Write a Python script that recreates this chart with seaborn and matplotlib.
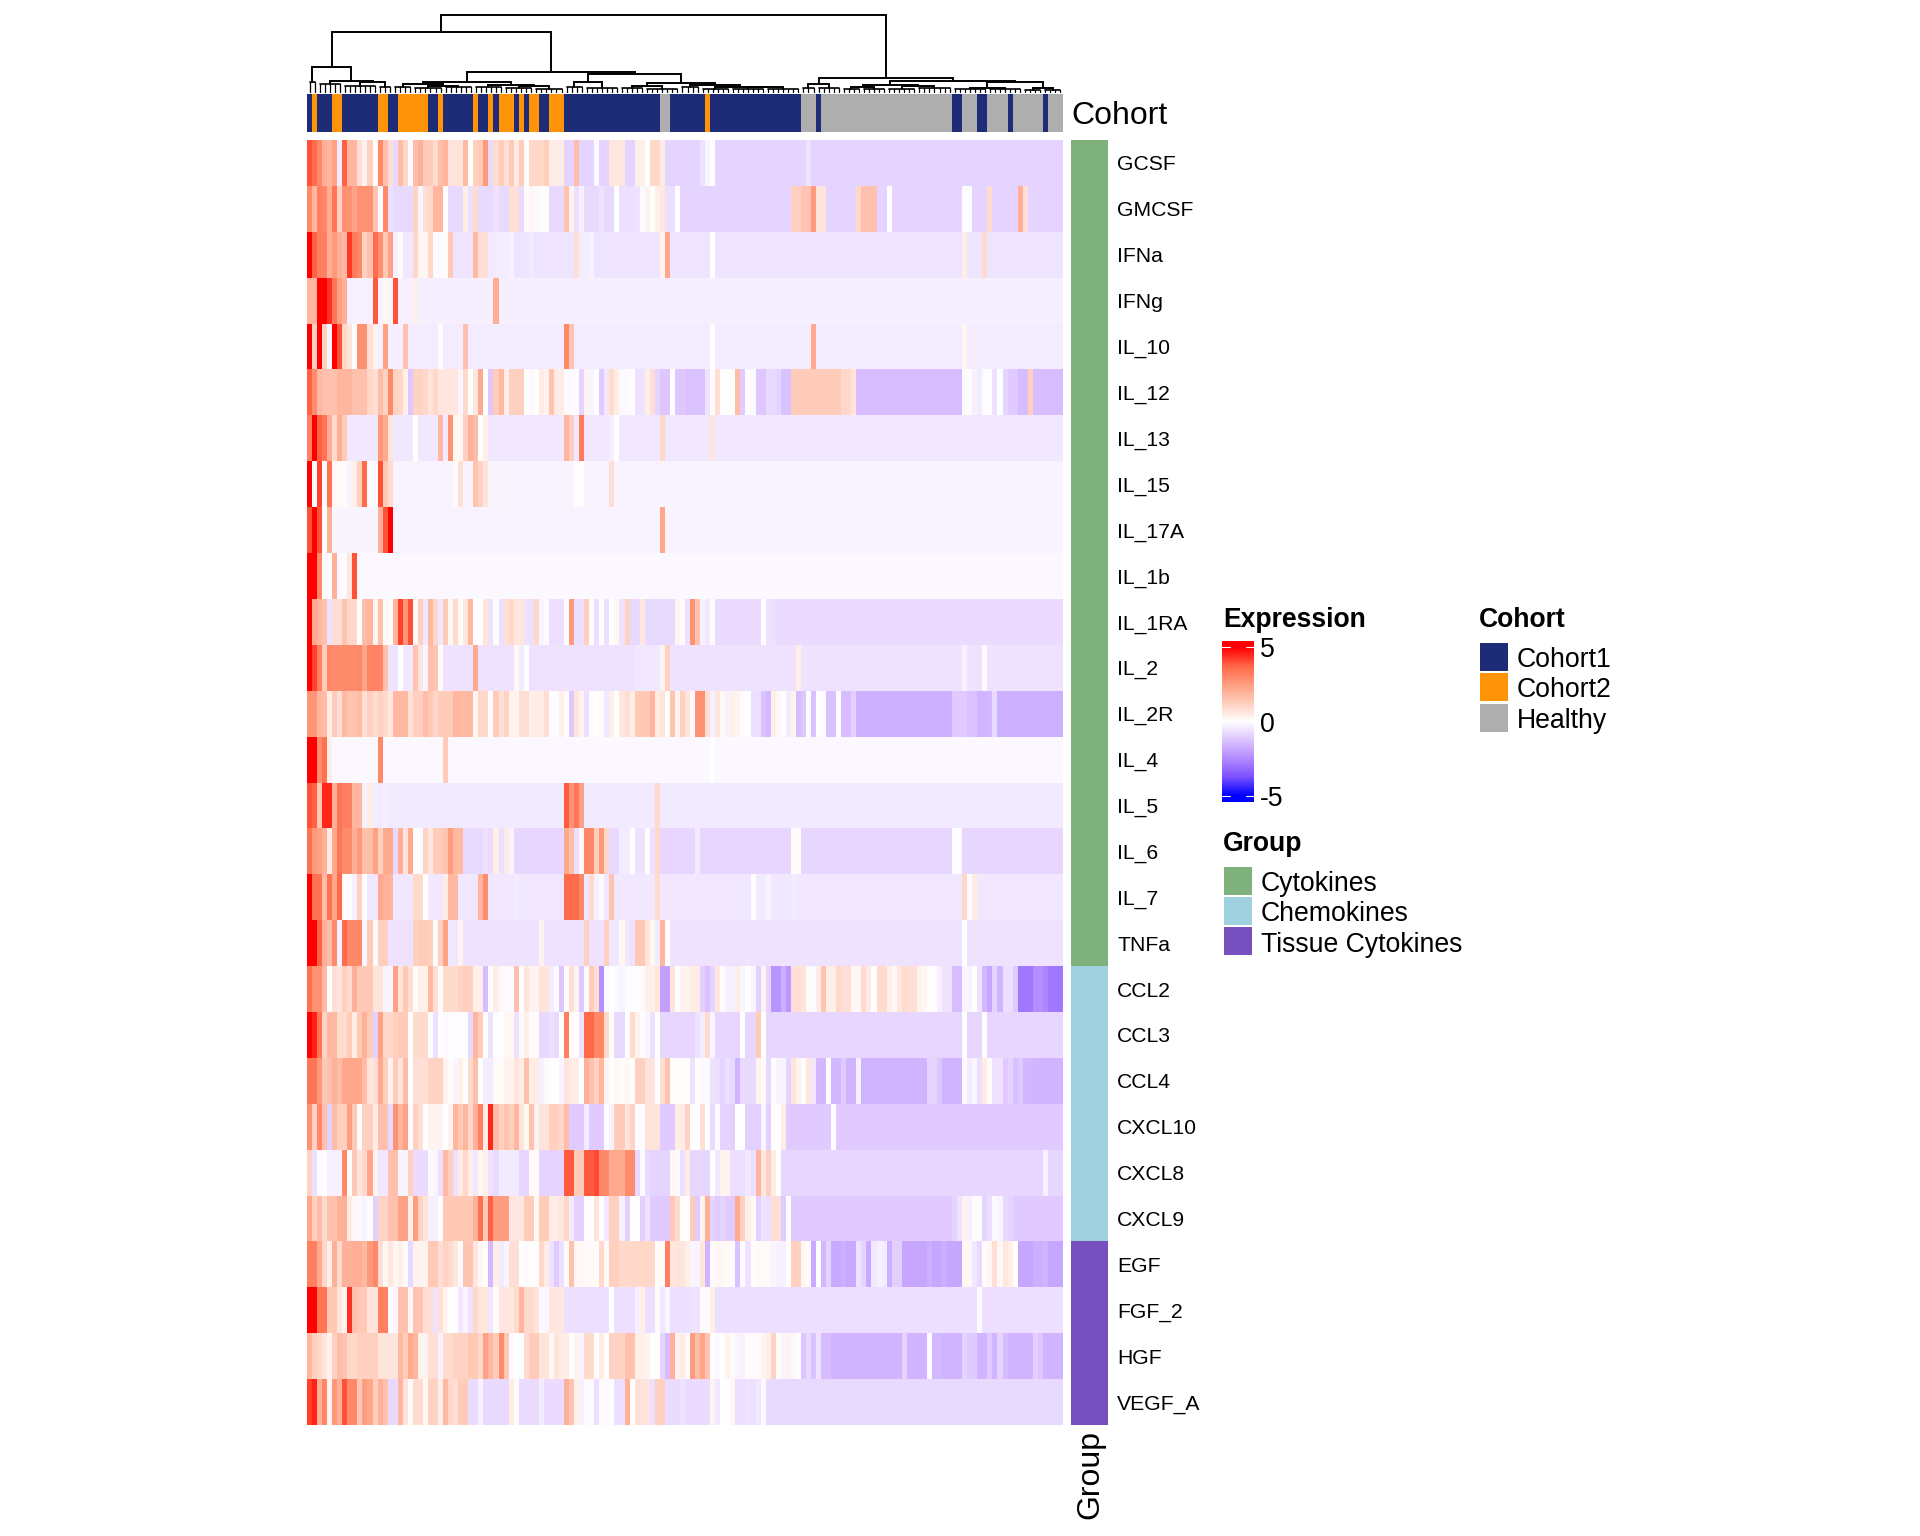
import numpy as np
import pandas as pd
import matplotlib.pyplot as plt
import seaborn as sns
from matplotlib.colors import LinearSegmentedColormap, ListedColormap
from matplotlib.patches import Rectangle

row_labels = ['GCSF', 'GMCSF', 'IFNa', 'IFNg', 'IL_10', 'IL_12', 'IL_13', 'IL_15', 'IL_17A', 'IL_1b',
              'IL_1RA', 'IL_2', 'IL_2R', 'IL_4', 'IL_5', 'IL_6', 'IL_7', 'TNFa',
              'CCL2', 'CCL3', 'CCL4', 'CXCL10', 'CXCL8', 'CXCL9',
              'EGF', 'FGF_2', 'HGF', 'VEGF_A']

GCSF = ([4.0, 3.6, 3.0, 2.0, 1.9, 2.4, -.4, 3.8, 1.9, 1.9,
         .8, .3, 1.2, 0, 3.0, 1.6, .8, -.8, 1.7, 1.0,
         -.1, 1.7, 2.0, 1.3, 1.3, .9, 1.7, 1.9, .7, .7,
         .7, 1.8, 0, 1.2, 1.4, 2.6, -.8, .9, 1.3, .8,
         1.4, .5, 1.3, 0, 1.0, 1.0, 1.0, 1.2, .5, .5, .5]
        + [-.9]*2 + [1.7] + [-.9]*3 + [-.1] + [-.9]*2 + [.6]*3 + [-.9]*2 + [.4, .4, 0, 1, 1, .5]
        + [-.9]*7 + [-.6, -.2, 0] + [-.9]*18 + [-.6] + [-.9]*50)
GMCSF = ([3.0, 1.9, 3.2, 3.0, 2.1, 3.4, 1.2, 2.8, 2.8, 2.4, 2.8, 2.8, 2.8, 1.5, 0, 3.0, -.7]
         + [-.8]*4 + [1.1, -.2, .8, 1.0, 1.9, 1.9, 0] + [-.8]*3 + [.4, -.7, .9] + [-.8]*3
         + [-.6, -.8, -.8, .8, .8, -.8, .1, .25, -.1, .05, .05] + [-.8]*3 + [1.6, .3, -.7, -.3]
         + [-.8]*3 + [-.6, -.8, -.8, 0] + [-.7]*3 + [-.6, -.1, .3, 0, .4, .6, -.7, -.7, 0]
         + [-.9]*22 + [1.2, 1.2, 1.5, 1.5, 2.6, .7, .7] + [-.9]*6 + [1.0, 1.6, 1.6, 1.6, -.9, -.9, 0]
         + [-.9]*14 + [-.05, -.05] + [-.9]*3 + [.9] + [-.9]*5 + [2.0, .8] + [-.9]*7)
IFNa = ([5, 3.8, 3.2, 3.2, 2.1, 2.6, 2.0, 1.8, 4.3, 3.3,
         3.0, 1.1, 1.6, 3.6, 2.8, 1.4, 2.4, -.3, .15, -.5,
         -.5, 1.0, .25, .25, 1.0, -.1, -.1, .1, 1.4]
        + [-.55]*4 + [1.8, .8, .8, -.45, -.4, -.4, -.4, -.3] + [-.55]*3 + [-.45] + [-.55]*8
        + [.8, -.4, -.4, -.3] + [-.55]*13 + [.3, 2.3] + [-.55]*8 + [0] + [-.55]*49 + [.45]
        + [-.55]*3 + [.9] + [-.55]*15)
IFNg = ([1.9, 1.9, 5, 5, 4.4, 3.4, 2.4, 2.0] + [-.3]*5 + [3.9, -.25, .2, -.2, 4.0] + [-.3]*3 + [.4]
        + [-.35]*15 + [2.1] + [-.35]*112)
IL_10 = ([5, 1.2, 5, 1.2, -.2, 5, 4, 1.0, .7, 0, 2.8, 2.8, .8, .3, -.35, 2.4] + [-.35]*3 + [1.6]
         + [-.4]*6 + [.1] + [-.4]*4 + [1.6] + [-.4]*19 + [3.0, 1.5] + [-.4]*27 + [0] + [-.4]*19
         + [2.2] + [-.4]*29 + [.25] + [-.4]*19)
IL_12 = ([3.8, 2.9, 1.8, 1.6, 1.6, 1.6, 1.9, 1.9, 1.9, 1.6,
          1.6, 1.6, 1.0, .8, 1.7, 1.1, 3.0, 1.1, 1.0, .4,
          -1.2, 1.1, 1.1, 1.0, .7, 1.0, .6, .6, .6, .6,
          -.2, 1.0, 0, .6, 2.2, 0, -1.2, 1.3, 1.8, .4,
          1.2, 1.2, 1.2, 0, -.1, 0, .5, .3, 1.5, .5,
          .5, -.1, -.1, .05, -.9, .3, -.2, 0, -1.1, -.5,
          .9, .5, -.1, -.1, -.05, -.6, -.6, .4, .8, -.9,
          -1.2, -1.2, 0, -1.2, -1.2, -1.3, -1.3, -1.3, -1.3, -.6,
          -.05, .8, .05, .05, 0, 1.7, -1.1, .1, -.1, -1.2,
          -1.2, -.8, -.8, -.9, -1.3, -1.3]
         + [1.3]*10 + [1.0, 1.0, .7] + [-1.4]*21
         + [-.1, -.05, -.3, -.4, -.05, -.05, -.6, 0, -.9, -1.1, -1.1, -1.4, -1.4, 1.2] + [-1.4]*6)
IL_13 = ([3.2, 5, 3.8, 3.4, 2.1, .9, 2.1, 1.3] + [-.5]*6 + [2.6, 2.2, .7] + [-.5]*4 + [0] + [-.5]*4
         + [1.8, -.4, 2.8, .2, .2, 1.2, 2, 1.7, 0, .4] + [-.5]*15 + [1.9, 1.2, -.5, 3.3] + [-.5]*5
         + [-.35, 0] + [-.5]*8 + [1.0] + [-.5]*9 + [.7] + [-.5]*69)
IL_15 = ([5, -.1, 4.2, 0, 3.5, .2, .1, .1, -.2, .4, 1.2, 3.6, -.1, -.1, 4.0, 1.4, .9] + [-.25]*12
         + [.1, .8, -.25, -.25, 1.5, 1.1, .7, -.2, -.2] + [-.25]*15 + [.05, .05] + [-.25]*5 + [.8]
         + [-.25]*89)
IL_17A = [4, 5, 4, -.1, 2.0] + [-.2]*9 + [2.0, 4.0, 5] + [-.25]*53 + [2.3] + [-.25]*79
IL_1b = [5, 5, 3.0, -.1, -.1, 2.0, -.1, -.1, .6, 4] + [-.15]*140
IL_1RA = ([5, 2.2, 1.9, 1.6, -.6, .8, .8, 1.5, 1.0, 1.0,
           0, 1.7, 1.9, .3, 1.6, .1, .1, 1.9, 4.2, 2.7,
           4.0, .1, 1.2, -.5, 1.8, 1.0, -.5, 1.3, .2, .9,
           .1, .6, 1.9, 0, 0, .7, -.6, .05, -.7, .8,
           1.0, .6, .6, -.6, -.7, 1.0, -.2, -.1, -.7, -.7,
           -.7, 0, 2.6, -.7, -.7, 1.2, .1, -.7, 0, -.7,
           0, .2, -.6, 1.1, -.8, -.8, .6]
          + [-.8]*6 + [.3, .1, -.7, 2.8, 1.5, -.3, -.5, .05] + [-.75]*9 + [0, -.6, -.65] + [-.75]*57)
IL_2 = ([5, 4.2, 3.2, 1.3, 3.0] + [2.9]*5 + [3.0, 2.3, 3.1, 3.1, 3.1, 1.6, -.55, -.55, 0, -.5, -.5]
        + [1.5, .7, -.2, 1.6, 1.5, .1] + [-.6]*6 + [2.2] + [-.6]*7 + [.2, -.4, 0] + [-.6]*21
        + [-.5]*5 + [.3, 1.2] + [-.6]*25 + [.4] + [-.6]*32 + [-.3] + [-.6]*3 + [-.1] + [-.6]*15)
IL_2R = ([2.7, 2.7, 1.9, 1.7, .5, 1.3, .8, 1.8, 1.5, 1.5,
          1.7, .8, 1.2, .9, 1.1, .9, .6, 1.8, 1.8, 1.8,
          .8, 1.2, 1.2, 1.7, 1.4, 1.0, 1.3, 1.3, 1.3, 1.9,
          1.8, 1.8, 1.8, .2, 1.0, 1.0, 0, 1.3, .8, 1.1,
          .3, .3, .8, .8, .4, .5, .5, .8, -.05, -.05,
          .4, .1, -1.2, .7, .3, -.7, .1, 0, .1, -.5,
          .4, 0, .6, .8, .5, 1.4, 1.4, 1.4, 1.9, .5,
          .7, 0, 1.5, .3, 1.2, .7, .1, 2.8, 2.8, .8,
          -.3, .7, .2, -.3, .4, .3, .1, 0, -.7, -.7,
          -1.3, -1.5, .4, .2, 0, -.4, .3, -1.4, -1.2, 0,
          -1.3, 0, -.1, -1.3, -1.3, 0, -1.4, -1.4, -1.0]
         + [-1.7]*19 + [-1.1]*3 + [-1.3]*2 + [-1.6]*2 + [-1.5, -.8] + [-1.7]*13)
IL_4 = [5, 5, 2.9, 3.5, .4] + [-.15]*9 + [3.0] + [-.15]*12 + [1.3] + [-.15]*52 + [0] + [-.15]*69
IL_5 = ([4, 3.8, 1.4, 4.5, 4.5, 2.0, 3.4, 3.2, 3.2, 1.9, 1.9, -.3, .5, -.4, -.45, -.35] + [-.45]*35
        + [3.9, 2.7, 3.4, 2.4] + [-.45]*14 + [.9] + [-.45]*80)
IL_6 = ([3.5, 2.6, 2.4, 2.0, .5, 2.3, 3.4, 2.9, 2.9, 2.1,
         2.6, 1.6, 1.7, 2.4, 1.2, 2.2, 2.2, -.8, 2.0, .7,
         2.2, .05, -.1, 1.1, .6, 1.3, 1.3, 1.5, 2.5, 1.8,
         1.8, -.8, -.8, -.8, -.8, -.7, -.75, .4, -.7, .5, -.2]
        + [-.85]*10 + [2.2, 1.7, -.7, .2, 3.0, 3.0, 1.2, 2.6, 1.0,
                       -.8, -.8, -.4, -.4, 0, -.6, -.6, -.05, -.7, 1.0]
        + [-.85]*7 + [-.4] + [-.85]*18 + [.1, .1] + [-.85]*30 + [-.05, -.05] + [-.85]*20)
IL_7 = ([5, 3.5, 3.5, 1.7, 3.5, 2.3, 3.6, .05, -.05, -.3, 1.2, 0, -.5, -.5, 2.2, 2.0, 1.9]
        + [-.5]*4 + [.9, .9, 0] + [-.5]*3 + [.5, 1.8, 1.8] + [-.5]*4 + [1.9, 2.9] + [-.5]*5 + [-.4]
        + [-.5]*9 + [3.6, 3.6, 3.6, 3.0, -.5, .9, -.3, -.1, -.5, 1.5] + [-.5]*8 + [.9] + [-.5]*18
        + [0, -.45, -.45, -.25] + [-.5]*4 + [-.4] + [-.5]*33 + [1.0, -.1, .5] + [-.5]*17)
TNFa = ([5, 5, 3.8, 2.0, 1.7, 2.9, -.3, 3.6, 3.0, 3.0, 3.0, -.2, 1.4, -.1, 1.2, 1.2] + [-.6]*5
        + [1.2, 1.3, 1.3, 1.2, 0, 1.2, 2.4, -.5, -.5, .3] + [-.6]*15 + [.3] + [-.6]*8 + [1.2]
        + [-.6]*3 + [1.2, -.5, -.5, .2, -.5, -.6, 1.4, 1.4, .7, .2, -.4, 1.9, 0] + [-.6]*58 + [0]
        + [-.6]*19)
CCL2 = [3.5, 2.8, 2.8, 1.8, 0, .8, .7, 1.2, .9, 2.0,
        1.4, 1.4, 1.4, .7, .7, -.2, -.2, 2.4, .7, 1.4,
        .8, .1, .4, .4, 1.8, .8, .1, .9, .9, .9,
        1.1, 1.2, 1.2, .4, .4, -1.4, -.05, .5, .15, -.1,
        -.1, 1.6, 0, .7, .3, .3, .7, .7, -.4, -.1,
        -1.2, .1, .8, .3, -1.2, -.1, 1.3, .8, -2.4, -.1,
        0, -.1, -.2, -.05, -.05, -.05, -.1, .4, .4, .7,
        -2.0, -2.0, .7, 0, .3, .3, .5, .5, -1.0, -1.3,
        -.9, .6, .1, -.3, -.3, .5, -.2, 0, -.2, -1.0,
        .3, -.9, -2.3, -2.3, -1.7, -2.2, .8, .8, .7, .1,
        -.1, .5, 1.5, .4, .4, 1.0, .8, .8, .2, .2,
        .9, .5, 0, .9, .9, .4, .2, .6, .9, .8,
        .8, .3, .2, 0, -.05, -.3, -.6, -.6, -1.4, -1.4,
        -.2, -.2, 0, -.6, -1.5, -1.9, -.9, -1.6, -.7, -.7,
        -1.1, -2.9, -2.9, -2.9, -2.4, -2.4, -2.6, -2.9, -2.9, -2.9]
CCL3 = ([5, 4.6, 3.4, 1.1, 1.8, 1.8, .9, .9, 1.3, .5,
         1.4, 2.0, 1.3, -1.0, 2.4, 1.0, 1.0, 1.2, 1.3, 1.3,
         0, .9, .9, .9, 0, -.7, 0, -.1, -.05, -.05,
         -.05, -.05, -.8, 1.9, 1.3, 0, -.6, -.05, -.05, .2,
         .2, -.6, -.1, .4, .1, .1, -.8, -.8, -.7, -.8,
         0, 3.2, .05, .05, -.6, 3.7, 3.7, 3.0, 3.0, .9,
         .1, -.8, -.8, 0, .9, .3, .1, -.2, -.7, 0]
        + [-.85]*7 + [-.6, -.4, .9, -.2] + [-.85]*5 + [0, -.85, -.85, 1.3, 0] + [-.85]*39 + [0]
        + [-.85]*3 + [0] + [-.85]*15)
CCL4 = ([3.4, 3.4, 2.6, 1.4, 1.6, 2.0, 1.7, 2.3, 2.3, 2.3,
         2.3, 1.7, .6, .8, 2.2, 1.2, .3, 1.3, .7, 1.7,
         0, .8, .8, .8, 1.1, 1.1, 1.1, .3, .1, -.2,
         .4, 0, 1.0, 1.6, 0, -.4, -.4, .15, .15, .3,
         .3, .7, .5, 1.6, .5, .5, -.3, -.1, 0, 0,
         -.2, .7, .5, .5, 0, 2.0, 1.6, 1.1, 1.9, .3,
         -.05, .2, .1, .2, 0, 1.2, 1.2, .7, .7, 0,
         .8, 1.5, .05, .05, .05, .05, -.6, 0, -.1, -.1,
         -.6, -.7, -.9, -.7, -.8, -1.6, -.8, -.8, -.8, .3,
         .1, -.8, -.05, -.2, -.2, -.9, .7, .3, 0, .6,
         -.5, -1.5, -1.5, 0, -1.5, -1.5, -1.1, -1.6, -1.6, -.3]
        + [-1.6]*13 + [-.9, -.9, -1.2] + [-1.6]*4
        + [.15, -.4, -.2, -.7, .5, .1, -.6, -.6, -1.1, -.9, -1.3, -1.1, -1.5, -1.5] + [-1.6]*6)
CXCL10 = ([2.8, 1.2, 3.0, 1.6, -1.0, 1.7, 1.2, 1.2, 2.5, 1.4,
           0, 1.2, 1.2, .5, 1.6, 1.6, -.8, 2.8, 1.9, 2.4,
           0, 1.2, .8, 0, .3, .3, .3, 0, .3, 1.9,
           1.4, 1.9, 1.0, 2.0, 3.2, .5, 4.5, 1.7, 1.2, 1.5,
           1.2, 1.9, .7, .2, 1.6, .3, .7, .7, 1.2, 1.2,
           1.0, 1.7, -1.1, -1.1, -1.1, -.4, -1.1, -1.1, -1.1, 0,
           -.3, 1.3, 1.3, .7, 1.1, -.05, -.05, .7, .7, .7,
           -1.1, -1.1, -1.1, .5, .5, 1.1, 0, 0, .8, 0,
           -.8, -.1, -.9, -.9, -1.0, 0, 0, -1.0, -1.0, -1.0,
           -.2, -1.0, 0, 0, .5]
          + [-1.1]*9 + [0] + [-1.1]*45)
CXCL8 = ([1.1, -.7, -.1, 0, -.3, -.3, -.3, 3.0, .1, 1.4,
          .7, 1.0, 2.3, .3, -.5, -.5, 1.6, 1.6, -.2, -.2,
          1.2, -.75, -.75, -.75, -.1, -.2, -.7, 1.8, 1.2, -.7,
          .5, 1.0, .4, -.5, .2, .4, -.6, -.8, -.45, -.45,
          -.45, -.45, -.85, -.85, .15, .15, -.9, -.9, -.9, -.9,
          -.9, 3.9, 3.9, 1.3, 1.3, 3.9, 3.9, 4.1, 3.0, 3.0,
          2.2, 2.2, 2.2, 2.9, 2.9, -.8, -.1, -.8, -.9, -.9,
          -.9, -.9, .2, -.1, -.7, .5, -.85, -.85, -.85, -.85,
          0, -.5, .3, .3, -.7, -.7, -.7, -.5, -.7, 1.9,
          .6, 1.2, .5, 0]
         + [-.85]*52 + [-.3] + [-.85]*3)
CXCL9 = ([2.3, 1.2, 1.7, .9, 1.6, 1.6, 2.0, 2.0, .5, .2,
          -.15, -.2, 0, -1.0, 1.1, 1.1, 1.6, 1.6, 2.4, 2.4,
          .4, 2.5, 1.1, .7, -.3, -.3, 0, 1.4, 1.4, 1.4,
          1.4, 1.4, 1.4, 2.0, 3.5, 1.3, 3.8, 2.5, 2.5, 2.5,
          .6, .6, .6, 1.3, 1.3, .2, 1.3, 1.3, .5, .5,
          .6, 1.0, -.4, -1.0, -1.0, 0, 0, .7, 0, -.5,
          1.2, 1.2, -.3, -1.0, 0, 0, -1.0, -.6, -1.1, -1.1,
          -1.1, -1.1, 1.4, .9, .05, .05, 1.3, -1.1, .3, 2.0,
          -.9, -1.1, -.9, -1.1, -1.1, 2.2, 1.2, .4, .2, -1.0,
          -.6, -.7, .8, .8, -1.1, 0]
         + [-1.1]*32 + [-.9, -.6, .3, -.3, -.05, 0, -.9, -.7, -.1, -.2, -.8, -.9] + [-1.1]*10)
EGF = ([3.2, 3.2, 2.2, 1.0, .4, 2.0, .9, 2.0, 2.0, 2.1,
        2.1, 1.8, 2.6, 3.0, .8, .2, .6, .2, .4, -.1,
        -.8, .3, .3, .3, 1.4, 1.4, .8, 1.1, .9, .6,
        .1, 1.5, 1.5, .6, .2, 0, -1.5, .4, -.4, -.2,
        .8, .8, 0, -.1, .05, .05, 1.0, .5, -.6, -1.1,
        -.7, .1, 1.6, .2, .2, .15, .15, .15, 1.0, .1,
        1.2, 1.2, 1.0, 1.0, 1.0, 1.0, 1.0, 1.0, 1.0, .1,
        .1, 3.2, .6, .7, .7, .4, -.2, -.2, .7, -1.6,
        -.1, .2, .2, .15, -.05, -1.3, -.1, -.6, -.05, .15,
        .15, .15, -.2, -.3, -.3, 0, 1.2, 1.2, .2, -.1,
        -1.8, 0, -1.5, -.9, -1.8, -1.8, -1.7, -1.8, -1.8, -.6,
        -.9, -1.8, -.5, -.3, -.4, -1.7, -1.0, -1.0]
       + [-1.9]*5 + [-1.7, -1.9, -1.9, -1.7] + [-1.9]*3
       + [.2, .2, -.5, -.8, .05, .25, .8, .2, .6, .4, 0] + [-1.9]*3 + [-1.7, -1.7, -1.6] + [-1.9]*3)
FGF_2 = ([5, 5, 3.4, 3.4, 1.4, 1.4, .7, .3, 4.4, 1.6,
          1.4, 1.4, .7, .7, 3.2, 3.2, 0, -.2, 1.6, 1.6,
          .2, 1.5, 1.5, .8, .8, -.6, .8, .3, 0, 0,
          -.5, -.2, -.6, 1.0, .6, .6, -.5, .1, .6, .6,
          .6, .9, 1.9, .9, .9, .7, -.15, -.15, .6, .6, .6]
         + [-.7]*9 + [0] + [-.7]*4 + [-.3, .4, -.7, -.7, .15, -.5, -.2] + [-.7]*4
         + [-.6, -.6, .1, .1, .4] + [-.7]*52 + [-.1] + [-.7]*16)
HGF = ([1.9, 1.2, 1.0, .7, .3, 1.2, 1.7, 1.5, 1.0, 1.0,
        1.2, 1.2, 1.2, 1.2, .7, .7, .7, .7, 1.8, 1.3,
        2.2, 1.9, .3, .3, .8, .8, -.3, .9, .9, 1.1,
        1.1, 1.1, 1.4, 1.4, 1.0, 2.4, 1.8, 1.3, 2.9, 1.4,
        -.1, 0, -.05, .9, 1.3, 1.3, .7, .7, .2, .7,
        .5, .5, 0, .3, -.2, .9, .9, 0, .5, 0,
        1.1, 1.1, 1.1, 1.6, 1.6, .4, .4, .3, 0, 0,
        -.9, -1.4, 2.0, .3, .5, .1, 2.5, 1.7, 2.3, 1.5,
        0, -.15, 0, .3, .15, -.2, -.3, .1, .1, .1,
        .3, .4, 1.1, .05, -.2, .3, -.15, 0, -1.2, -.8,
        -1.3, -.6, -1.4, -1.4]
       + [-1.6]*14 + [-.9] + [-1.6]*4 + [0, -1.5, -1.5] + [-1.6]*4
       + [-.9, -1.1, -1.1, -1.6, -1.6, -1.1, -1.6, -.9, -1.4] + [-1.6]*5 + [-1.0, -1.2] + [-1.6]*4)
VEGF_A = ([4.2, 4.6, 2.0, 3.0, .3, 2.6, 2.0, 4.0, 3.0, 3.0,
           1.4, 2.5, 2.3, 1.2, 2.0, 1.6, -.8, -.8, 1.9, .7,
           -.1, .9, .9, .2, 1.1, 1.1, .4, 1.8, 1.0, .8,
           1.3, 1.3, -.75, -.75, -.3]
          + [-.8]*5 + [.5, .1] + [-.75]*4 + [-.4] + [-.75]*4
          + [2.0, 1.5, .4, -.3, -.1, -.1, -.7, -.1, -.1, -.05]
          + [-.7, -.7, 2.0, 0, .8, .7, .7, -.7, 1.2, 1.2] + [-.75]*3 + [-.55] + [-.75]*5
          + [.3, -.5, 0, 0, .2, -.7, -.7, -.6, -.65, -.5, -.1] + [-.8]*59)

rows = [GCSF, GMCSF, IFNa, IFNg, IL_10, IL_12, IL_13, IL_15, IL_17A, IL_1b, IL_1RA, IL_2, IL_2R, IL_4,
        IL_5, IL_6, IL_7, TNFa, CCL2, CCL3, CCL4, CXCL10, CXCL8, CXCL9, EGF, FGF_2, HGF, VEGF_A]
bad = {n: len(r) for n, r in zip(row_labels, rows) if len(r) != 150}
if bad:
    raise ValueError(bad)

# cohort per column: (cohort index, how many columns in a row)
cohort_names = ['Cohort1', 'Cohort2', 'Healthy']
cohort_runs = [(0, 1), (1, 1), (0, 3), (1, 2), (0, 7), (1, 2), (0, 2), (1, 6), (0, 2), (1, 1), (0, 6), (1, 1),
               (0, 2), (1, 1), (0, 1), (1, 3), (0, 1), (1, 1), (0, 1), (1, 2), (0, 2), (1, 3), (0, 19), (2, 2),
               (0, 7), (1, 1), (0, 18), (2, 3), (0, 1), (2, 26), (0, 2), (2, 3), (0, 2), (2, 4), (0, 1), (2, 6),
               (0, 1), (2, 3)]
group_names = ['Cytokines', 'Chemokines', 'Tissue Cytokines']
group_counts = [18, 6, 4]

# dendrogram: (height, left, right), or (height, n_leaves) for a low comb of leaves
tree = (77.3,
        (60,
         (25, (10, 2),
          (11, (7.7, 5), (9.7, (6, 7), (5.5, 3)))),
         (20,
          (9.7,
           (7.7, (5, 4), (6, (4, 6), (5, 6))),
           (7, (5, 6), (6, (4, 6), (3.5, 6)))),
          (18,
           (9.7, (5, 4), (4.5, 7)),
           (9.3,
            (6.5, (4, 5), (3.5, 7)),
            (7, (5, 4), (5.5, (3.5, 6), (5, (3, 7), (3, 7)))))))),
        (14.3,
         (7.7, (4.5, 3), (4, 5)),
         (11.3,
          (6.7,
           (5, (3, 4), (3.5, 5)),
           (6, (3, 6), (4, 7))),
          (9.7,
           (4.5, (3, 7), (3.5, 7)),
           (4, (2.5, 4), (2, 4))))))

cohort_colors = ['#1E2C78', '#FF9409', '#AEAEAE']
group_colors = ['#7FB17C', '#9FD0E0', '#7650BE']
scale_values = [-5, -3.75, -2.5, -1.25, 0, 1.25, 2.5, 3.75, 5]
scale_colors = ['#0000FF', '#7C51FF', '#B38AFF', '#DCC4FF', '#FFFFFF', '#FFCEBD', '#FF9E81', '#FF6746', '#FF0000']

sns.set_theme(style='white')
plt.rcParams['font.family'] = ['Liberation Sans', 'DejaVu Sans']

W, H = 1920, 1536
fig = plt.figure(figsize=(W/100, H/100), dpi=100, facecolor='white')


def px_axes(left, top, right, bottom):
    return fig.add_axes([left/W, 1 - bottom/H, (right - left)/W, (bottom - top)/H])


cmap = LinearSegmentedColormap.from_list('expr', [((v + 5)/10, c) for v, c in zip(scale_values, scale_colors)])

# main heatmap
df = pd.DataFrame(rows, index=row_labels)
ax = px_axes(307, 140, 1063, 1425)
sns.heatmap(df, cmap=cmap, vmin=-5, vmax=5, cbar=False, xticklabels=False, yticklabels=False, ax=ax)

# cohort strip
cohort = [c for c, n in cohort_runs for _ in range(n)]
ax_c = px_axes(307, 94, 1063, 132)
sns.heatmap([cohort], cmap=ListedColormap(cohort_colors), vmin=-.5, vmax=2.5, cbar=False,
            xticklabels=False, yticklabels=False, ax=ax_c)

# group strip, carries the row labels
group = [[i] for i, n in enumerate(group_counts) for _ in range(n)]
ax_g = px_axes(1071, 140, 1108, 1425)
sns.heatmap(group, cmap=ListedColormap(group_colors), vmin=-.5, vmax=2.5, cbar=False,
            xticklabels=False, yticklabels=row_labels, ax=ax_g)
ax_g.yaxis.tick_right()
ax_g.tick_params(axis='y', length=0, pad=6.5, labelsize=15.2, labelrotation=0, colors='black')

# dendrogram
ax_d = px_axes(307, 14.7, 1063, 92)
ax_d.set_xlim(0, 150)
ax_d.set_ylim(0, 77.3)
ax_d.axis('off')


def draw_tree(node, start):
    if len(node) == 2:
        h, n = node
        xs = [start + i + .5 for i in range(n)]
        ax_d.plot([xs[0], xs[-1]], [h, h], color='black', lw=1.2, clip_on=False)
        for x in xs:
            ax_d.plot([x, x], [0, h], color='black', lw=.9, clip_on=False)
        return (xs[0] + xs[-1])/2, h, start + n
    h, left, right = node
    xl, hl, nxt = draw_tree(left, start)
    xr, hr, nxt = draw_tree(right, nxt)
    ax_d.plot([xl, xl, xr, xr], [hl, h, h, hr], color='black', lw=1.4, clip_on=False, solid_joinstyle='miter')
    return (xl + xr)/2, h, nxt


draw_tree(tree, 0)

# colour scale
ax_s = px_axes(1222, 641, 1254, 802)
sns.heatmap(np.linspace(5.4, -5.4, 161).reshape(-1, 1), cmap=cmap, vmin=-5, vmax=5, cbar=False,
            xticklabels=False, yticklabels=False, ax=ax_s)

# overlay in pixel coordinates for the legends and the strip names
ov = fig.add_axes([0, 0, 1, 1], facecolor='none')
ov.set_xlim(0, W)
ov.set_ylim(H, 0)
ov.axis('off')

for y in (647, 796):
    ov.plot([1222, 1230], [y, y], color='white', lw=.8)
    ov.plot([1246, 1254], [y, y], color='white', lw=.8)

lab = 19.2
ov.text(1071, 116.5, 'Cohort', fontsize=23, va='center', ha='left', color='black')
ov.text(1090, 1430, 'Group', fontsize=23, rotation=90, va='top', ha='center', color='black')

ov.text(1223, 626.7, 'Expression', fontsize=19.1, fontweight='bold', color='black')
for txt, y in zip(['5', '0', '-5'], [657, 732, 806]):
    ov.text(1260, y, txt, fontsize=lab, color='black')

ov.text(1479, 626.7, 'Cohort', fontsize=19.1, fontweight='bold', color='black')
for name, c, top, base in zip(cohort_names, cohort_colors, [643, 673.3, 703.7], [667, 697, 728]):
    ov.add_patch(Rectangle((1480, top), 28, 28, facecolor=c, edgecolor='none'))
    ov.text(1517, base, name, fontsize=lab, color='black')

ov.text(1223, 851, 'Group', fontsize=19.1, fontweight='bold', color='black')
for name, c, top, base in zip(group_names, group_colors, [867, 897, 927], [891, 921, 951.7]):
    ov.add_patch(Rectangle((1224, top), 28, 28, facecolor=c, edgecolor='none'))
    ov.text(1261, base, name, fontsize=lab, color='black')

fig.savefig('out.png', dpi=100, facecolor='white')
